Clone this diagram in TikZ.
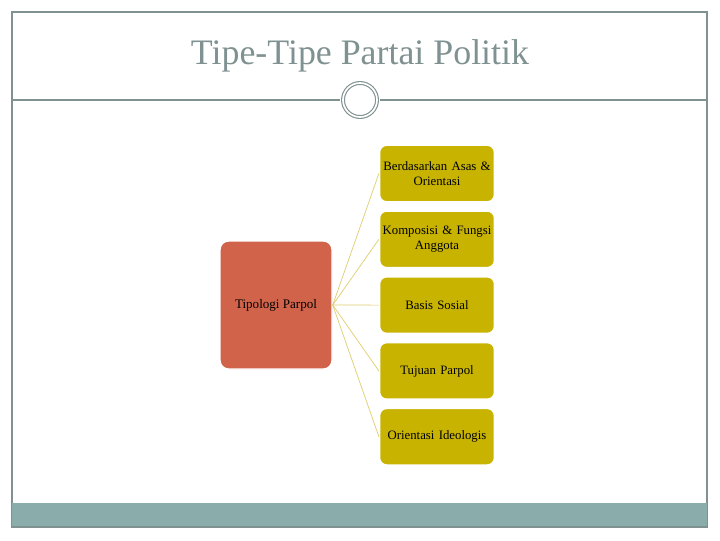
\documentclass[tikz,border=0pt]{standalone}
\usepackage{fontspec}
\setmainfont{Liberation Serif}
\usepackage{tikz}
\usetikzlibrary{positioning}
\definecolor{framecolor}{RGB}{128, 145, 145}
\definecolor{bandcolor}{RGB}{138, 172, 171}
\definecolor{hubcolor}{RGB}{208, 99, 74}
\definecolor{leafcolor}{RGB}{200, 180, 0}
\definecolor{linkcolor}{RGB}{222, 205, 110}
\newlength{\unitlen}
\setlength{\unitlen}{0.025cm}

\tikzset{
  hubbox/.style={fill=hubcolor, draw=white, line width=1pt, rounded corners=6pt,
    minimum width=112\unitlen, minimum height=128\unitlen, font=\fontsize{9.3}{11}\selectfont},
  leafbox/.style={fill=leafcolor, draw=white, line width=1pt, rounded corners=5pt,
    minimum width=114\unitlen, minimum height=56.5\unitlen, align=center, inner sep=1pt,
    text width=112\unitlen, font=\fontsize{9.1}{10.3}\selectfont},
  link/.style={linkcolor, line width=0.5pt}
}

\begin{document}
\begin{tikzpicture}[x=0.025cm, y=-0.025cm]
  \useasboundingbox (0,0) rectangle (720,540);
  % Rahmen
  \draw[framecolor, line width=0.8pt] (12,12) rectangle (707,527);
  \fill[bandcolor] (12,503) rectangle (707,527);
  \draw[framecolor, line width=0.8pt] (12,527) -- (707,527);

  % Judul
  \node[text=framecolor, font=\fontsize{25.5}{30}\selectfont] (title) at (360,56) {Tipe-Tipe Partai Politik};
  \draw[framecolor, line width=0.8pt] (12,100) -- (340,100);
  \draw[framecolor, line width=0.8pt] (380,100) -- (707,100);
  \draw[framecolor, double=white, double distance=1.2pt, line width=0.8pt] (360,100) circle (17);

  % Tipologi
  \node[hubbox] (hub) at (276,305) {Tipologi Parpol};

  \node[leafbox] (asas) at (437,173.5) {Berdasarkan Asas \&\\Orientasi};
  \node[leafbox, below=7.9\unitlen of asas] (komposisi) {Komposisi \& Fungsi\\Anggota};
  \node[leafbox, below=7.9\unitlen of komposisi] (basis) {Basis Sosial};
  \node[leafbox, below=7.9\unitlen of basis] (tujuan) {Tujuan Parpol};
  \node[leafbox, below=7.9\unitlen of tujuan] (ideologi) {Orientasi Ideologis};

  \foreach \leaf in {asas, komposisi, basis, tujuan, ideologi} {
    \draw[link] (hub.east) -- (\leaf.west);
  }
\end{tikzpicture}
\end{document}
